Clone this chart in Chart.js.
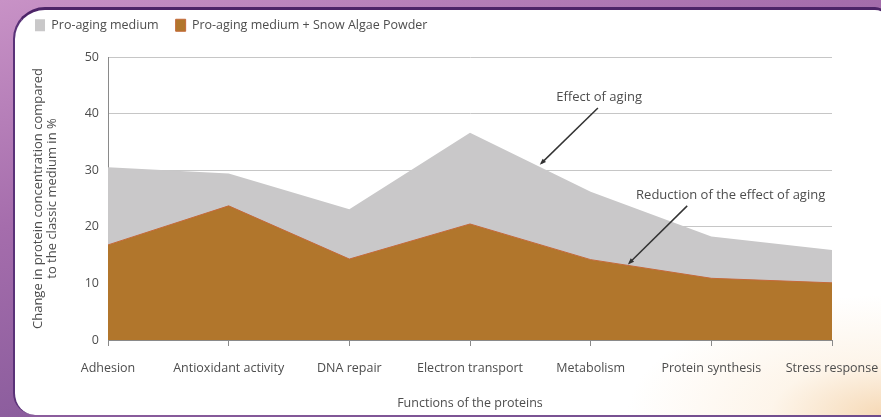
<!DOCTYPE html>
<html>
<head>
<meta charset="utf-8">
<script src="https://cdn.jsdelivr.net/npm/chart.js@4"></script>
<style>
  html, body { margin: 0; padding: 0; }
  body {
    width: 881px;
    height: 417px;
    overflow: hidden;
    position: relative;
    background: linear-gradient(165deg, #c892c6 0%, #a56dac 35%, #6e4b8c 100%);
  }
  .panel {
    position: absolute;
    left: 13px;
    top: 7px;
    right: -6px;
    bottom: 2px;
    border-top: 3px solid #4d2468;
    border-left: 2px solid #5a3278;
    border-radius: 32px 12px 0 22px;
    background:
      radial-gradient(ellipse 260px 120px at 100% 100%, rgba(238, 185, 120, 0.55) 0%, rgba(250, 226, 195, 0.35) 45%, rgba(255, 255, 255, 0) 100%),
      #ffffff;
  }
  .chart-box {
    position: absolute;
    left: 0;
    top: 0;
    width: 881px;
    height: 417px;
  }
</style>
</head>
<body>
<div class="panel"></div>
<div class="chart-box"><canvas id="chart"></canvas></div>
<script>
  // categories and values
  const categories = [
    "Adhesion",
    "Antioxidant activity",
    "DNA repair",
    "Electron transport",
    "Metabolism",
    "Protein synthesis",
    "Stress response",
  ];
  const proAging = [30.5, 29.4, 23.1, 36.6, 26.2, 18.3, 15.9];
  const proAgingAlgae = [16.8, 23.7, 14.3, 20.5, 14.2, 10.9, 10.1];
  const yTicks = [0, 10, 20, 30, 40, 50];

  // callouts, anchored in data units (category index, percent)
  const callouts = [
    { text: "Effect of aging", label: [4.07, 42.9], from: [4.06, 41.0], to: [3.59, 31.2] },
    { text: "Reduction of the effect of aging", label: [5.16, 25.6], from: [4.8, 23.7], to: [4.32, 13.6] },
  ];

  const textColor = "#4d4d4d";
  const fontFamily = "'Open Sans', 'Liberation Sans', sans-serif";

  const calloutPlugin = {
    id: "callouts",
    afterDatasetsDraw(chart) {
      const { ctx, scales } = chart;
      const px = (p) => [scales.x.getPixelForValue(p[0]), scales.y.getPixelForValue(p[1])];
      ctx.save();
      ctx.font = "13px " + fontFamily;
      ctx.textAlign = "center";
      ctx.textBaseline = "middle";
      callouts.forEach((c) => {
        const [lx, ly] = px(c.label);
        ctx.fillStyle = textColor;
        ctx.fillText(c.text, lx, ly);
        const [x1, y1] = px(c.from);
        const [x2, y2] = px(c.to);
        ctx.strokeStyle = "#333";
        ctx.lineWidth = 1.5;
        ctx.beginPath();
        ctx.moveTo(x1, y1);
        ctx.lineTo(x2, y2);
        ctx.stroke();
        // arrow head
        const a = Math.atan2(y2 - y1, x2 - x1);
        ctx.fillStyle = "#333";
        ctx.beginPath();
        ctx.moveTo(x2 + Math.cos(a) * 2, y2 + Math.sin(a) * 2);
        ctx.lineTo(x2 - Math.cos(a - 0.5) * 5, y2 - Math.sin(a - 0.5) * 5);
        ctx.lineTo(x2 - Math.cos(a + 0.5) * 5, y2 - Math.sin(a + 0.5) * 5);
        ctx.closePath();
        ctx.fill();
      });
      ctx.restore();
    },
  };

  new Chart(document.getElementById("chart"), {
    type: "line",
    data: {
      labels: categories,
      datasets: [
        {
          label: "Pro-aging medium",
          data: proAging,
          backgroundColor: "#c9c8c9",
          borderColor: "#c9c8c9",
          borderWidth: 0,
          fill: "origin",
          pointRadius: 0,
          tension: 0,
          order: 1,
        },
        {
          label: "Pro-aging medium + Snow Algae Powder",
          data: proAgingAlgae,
          backgroundColor: "#b1762c",
          borderColor: "#c4693a",
          borderWidth: 1,
          fill: "origin",
          pointRadius: 0,
          tension: 0,
          order: 0,
        },
      ],
    },
    options: {
      responsive: true,
      maintainAspectRatio: false,
      animation: false,
      devicePixelRatio: 1,
      layout: {
        padding: { left: 18, right: 49, top: 2, bottom: 2 },
      },
      plugins: {
        legend: {
          position: "top",
          align: "start",
          labels: {
            boxWidth: 10,
            boxHeight: 12,
            padding: 17,
            color: textColor,
            font: { family: fontFamily, size: 12.5 },
            sort: (a, b) => a.datasetIndex - b.datasetIndex,
          },
        },
        // empty title used as spacer between legend and plot
        title: {
          display: true,
          text: "",
          weight: 500,
          font: { size: 10, lineHeight: 1 },
          padding: { top: 5.5, bottom: 0 },
        },
        tooltip: { enabled: false },
      },
      scales: {
        x: {
          offset: false,
          afterFit: function (scale) {
            scale.height = 75;
            scale.paddingLeft = 0;
            scale.paddingRight = 0;
          },
          grid: {
            drawOnChartArea: false,
            drawTicks: true,
            tickLength: 6,
            color: "#8a8a8a",
          },
          border: { color: "#8a8a8a" },
          ticks: {
            padding: 15,
            color: textColor,
            font: { family: fontFamily, size: 12.5 },
            maxRotation: 0,
            autoSkip: false,
          },
          title: {
            display: true,
            text: "Functions of the proteins",
            color: textColor,
            font: { family: fontFamily, size: 12.5 },
            padding: { top: 5, bottom: 4 },
          },
        },
        y: {
          min: 0,
          max: 50,
          afterFit: function (scale) {
            scale.width = 90;
          },
          afterBuildTicks: function (scale) {
            scale.ticks = yTicks.map((v) => ({ value: v }));
          },
          grid: {
            drawTicks: false,
            color: "#c6c6c6",
          },
          border: { color: "#8a8a8a" },
          ticks: {
            padding: 9,
            color: textColor,
            font: { family: fontFamily, size: 12.5 },
          },
          title: {
            display: true,
            text: ["Change in protein concentration compared", "to the classic medium in %"],
            color: textColor,
            font: { family: fontFamily, size: 13, lineHeight: 1.08 },
            padding: { top: 13, bottom: 0 },
          },
        },
      },
    },
    plugins: [calloutPlugin],
  });
</script>
</body>
</html>
